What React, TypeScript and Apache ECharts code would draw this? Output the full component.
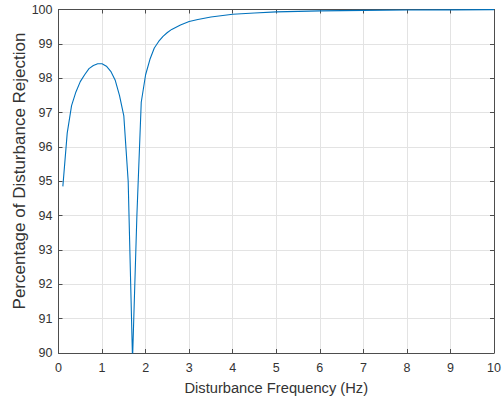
import React, { useEffect, useRef } from "react";
import * as echarts from "echarts";

const freqHz = [
  0.1, 0.2, 0.3, 0.4, 0.5, 0.6, 0.7, 0.8, 0.9, 1.0,
  1.1, 1.2, 1.3, 1.4, 1.5, 1.55, 1.6, 1.7, 1.8, 1.9,
  2.0, 2.1, 2.2, 2.3, 2.4, 2.5, 2.6, 2.8, 3.0, 3.2,
  3.5, 4.0, 4.5, 5.0, 6.0, 7.0, 8.0, 9.0, 10.0,
];
const rejectionPct = [
  94.85, 96.4, 97.2, 97.6, 97.9, 98.1, 98.28, 98.37, 98.42, 98.42,
  98.35, 98.2, 97.95, 97.5, 96.9, 95.95, 95.0, 89.8, 94.0, 97.3,
  98.1, 98.55, 98.88, 99.07, 99.22, 99.33, 99.42, 99.55, 99.65, 99.71,
  99.78, 99.86, 99.9, 99.93, 99.96, 99.975, 99.985, 99.99, 99.995,
];
const xTicks = [0, 1, 2, 3, 4, 5, 6, 7, 8, 9, 10];
const yTicks = [90, 91, 92, 93, 94, 95, 96, 97, 98, 99, 100];
const xTitle = "Disturbance Frequency (Hz)";
const yTitle = "Percentage of Disturbance Rejection";

const FONT = "'Liberation Sans', Arial, Helvetica, sans-serif";
const AXIS_COLOR = "#4d4d4d";
const LABEL_COLOR = "#333333";

export default function App() {
  const ref = useRef<HTMLDivElement>(null);
  useEffect(() => {
    if (!ref.current) return;
    const chart = echarts.init(ref.current, null, { renderer: "svg" });
    const data = freqHz.map((x, i) => [x, rejectionPct[i]]);
    const baseX = {
      type: "value" as const,
      min: xTicks[0],
      max: xTicks[xTicks.length - 1],
      interval: 1,
      axisLine: { show: true, onZero: false, lineStyle: { color: AXIS_COLOR, width: 1 } },
      axisTick: { show: true, inside: true, length: 4, lineStyle: { color: AXIS_COLOR } },
    };
    const baseY = {
      type: "value" as const,
      min: yTicks[0],
      max: yTicks[yTicks.length - 1],
      interval: 1,
      axisLine: { show: true, onZero: false, lineStyle: { color: AXIS_COLOR, width: 1 } },
      axisTick: { show: true, inside: true, length: 4, lineStyle: { color: AXIS_COLOR } },
    };
    chart.setOption({
      animation: false,
      backgroundColor: "#ffffff",
      grid: { left: 58.5, right: 10, top: 9.5, bottom: 45, containLabel: false },
      xAxis: [
        {
          ...baseX,
          position: "bottom",
          name: xTitle,
          nameLocation: "middle",
          nameGap: 27,
          nameTextStyle: { fontFamily: FONT, fontSize: 14.7, color: LABEL_COLOR },
          axisLabel: { fontFamily: FONT, fontSize: 12.5, color: LABEL_COLOR, margin: 8 },
          splitLine: { show: true, lineStyle: { color: "#e3e3e3", width: 1 } },
        },
        {
          ...baseX,
          position: "top",
          axisLabel: { show: false },
          splitLine: { show: false },
        },
      ],
      yAxis: [
        {
          ...baseY,
          position: "left",
          axisLabel: {
            fontFamily: FONT,
            fontSize: 12.5,
            color: LABEL_COLOR,
            margin: 6,
            padding: [3, 0, 0, 0],
          },
          splitLine: { show: true, lineStyle: { color: "#e3e3e3", width: 1 } },
        },
        {
          ...baseY,
          position: "right",
          axisLabel: { show: false },
          splitLine: { show: false },
        },
      ],
      graphic: [
        {
          type: "text",
          x: 19,
          y: 171,
          rotation: Math.PI / 2,
          style: {
            text: yTitle,
            fontFamily: FONT,
            fontSize: 17,
            fill: LABEL_COLOR,
            textAlign: "center",
            textVerticalAlign: "middle",
          },
        },
      ],
      series: [
        {
          type: "line",
          data,
          xAxisIndex: 0,
          yAxisIndex: 0,
          showSymbol: false,
          smooth: false,
          clip: true,
          lineStyle: { color: "#0072BD", width: 1.1 },
        },
      ],
    });
    return () => chart.dispose();
  }, []);
  return <div ref={ref} style={{ width: 504, height: 400, position: "absolute", left: 0, top: 0 }} />;
}
